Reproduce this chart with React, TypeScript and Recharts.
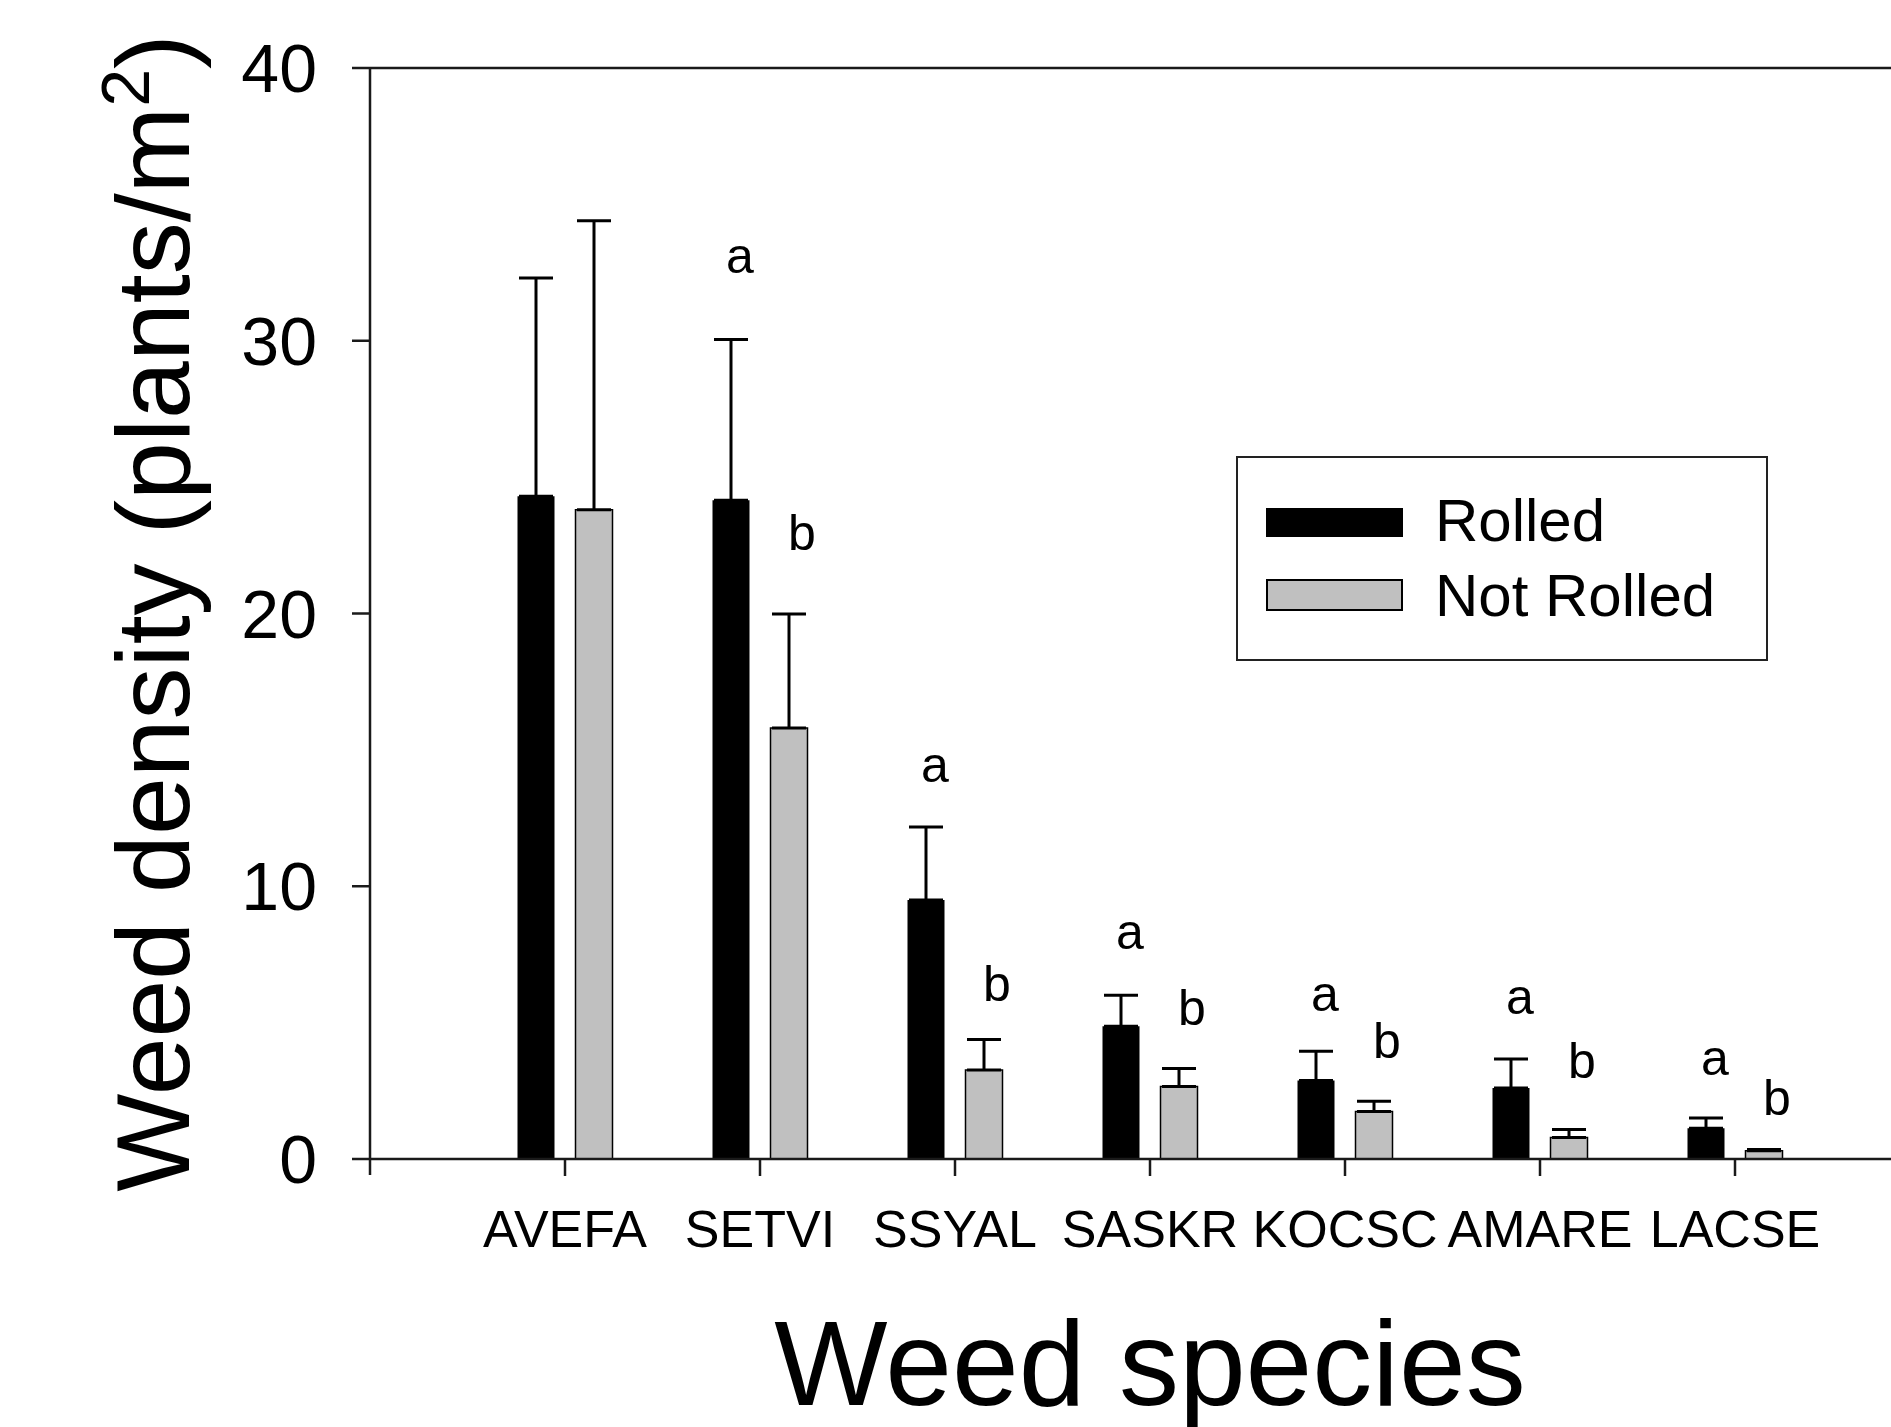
import React from "react";
import {
  ComposedChart,
  Bar,
  ErrorBar,
  XAxis,
  YAxis,
  Scatter,
  Legend,
  ReferenceLine,
} from "recharts";

const FONT = "'Liberation Sans', Arial, sans-serif";
const AXIS = "#1a1a1a";

// values (plants/m2)
const species = ["AVEFA", "SETVI", "SSYAL", "SASKR", "KOCSC", "AMARE", "LACSE"];
const rolled = [24.3, 24.15, 9.5, 4.87, 2.88, 2.6, 1.13];
const rolledErr = [8.0, 5.9, 2.67, 1.13, 1.07, 1.07, 0.37];
const notRolled = [23.8, 15.8, 3.26, 2.66, 1.74, 0.79, 0.3];
const notRolledErr = [10.6, 4.18, 1.12, 0.66, 0.38, 0.29, 0.05];

// significance letters and the height (data units) they sit at
const rolledLetters = ["", "a", "a", "a", "a", "a", "a"];
const notRolledLetters = ["", "b", "b", "b", "b", "b", "b"];
const rolledLetterY = [null, 32.97, 14.3, 8.18, 5.9, 5.79, 3.56];
const notRolledLetterY = [null, 22.99, 6.45, 5.57, 4.36, 3.63, 2.27];

const yTicks = [0, 10, 20, 30, 40];

const data = species.map((name, i) => ({
  name,
  rolled: rolled[i],
  rolledErr: [0, rolledErr[i]],
  notRolled: notRolled[i],
  notRolledErr: [0, notRolledErr[i]],
  aLetter: rolledLetters[i],
  aY: rolledLetterY[i],
  bLetter: notRolledLetters[i],
  bY: notRolledLetterY[i],
}));

const LegendBox = () => (
  <div
    style={{
      width: 532,
      height: 205,
      boxSizing: "border-box",
      border: "2px solid #222",
      position: "relative",
      fontFamily: FONT,
      background: "#fff",
      color: "#000",
    }}
  >
    <div style={{ position: "absolute", left: 28, top: 50, width: 137, height: 29, background: "#000" }} />
    <div
      style={{ position: "absolute", left: 197, top: 63, transform: "translateY(-50%)", fontSize: 60, lineHeight: 1 }}
    >
      Rolled
    </div>
    <div
      style={{
        position: "absolute",
        left: 28,
        top: 121,
        width: 137,
        height: 32,
        boxSizing: "border-box",
        background: "#c0c0c0",
        border: "2px solid #000",
      }}
    />
    <div
      style={{ position: "absolute", left: 197, top: 138, transform: "translateY(-50%)", fontSize: 60, lineHeight: 1 }}
    >
      Not Rolled
    </div>
  </div>
);

const letterShape = (field: string, dx: number, dyMap: Record<string, number>) => (props: any) => {
  const { cx, cy, payload } = props;
  const letter = payload && payload[field];
  if (!letter || cx == null || cy == null || isNaN(cy)) return <g />;
  return (
    <text x={cx + dx} y={cy + (dyMap[letter] || 0)} textAnchor="middle" fontSize={50} fontFamily={FONT} fill="#000">
      {letter}
    </text>
  );
};

const YTick = (props: any) => {
  const { x, y, payload } = props;
  return (
    <g>
      <text x={x} y={y} dy="0.355em" textAnchor="end" fontSize={68} fontFamily={FONT} fill="#000">
        {payload.value}
      </text>
      {payload.value === 0 && (
        <line x1={x + 53} y1={y} x2={x + 53} y2={y + 16} stroke={AXIS} strokeWidth={2.5} />
      )}
    </g>
  );
};

export default function App() {
  return (
    <div
      style={{
        position: "fixed",
        left: 0,
        top: 0,
        width: 1891,
        height: 1427,
        overflow: "hidden",
        background: "#fff",
      }}
    >
      <ComposedChart
        width={1960}
        height={1427}
        data={data}
        margin={{ top: 68, right: 30, bottom: 0, left: 0 }}
        barGap={21}
      >
        <XAxis
          dataKey="name"
          height={268}
          padding={{ left: 97.5, right: 97.5 }}
          interval={0}
          tickSize={17}
          tickMargin={34}
          tick={{ fontSize: 52, fill: "#000", fontFamily: FONT }}
          axisLine={{ stroke: AXIS, strokeWidth: 2.5 }}
          tickLine={{ stroke: AXIS, strokeWidth: 2.5 }}
          label={(p: any) => {
            const vb = p.viewBox || { x: 370, y: 1159, width: 1560 };
            return (
              <text
                x={vb.x + vb.width / 2}
                y={vb.y + 246}
                textAnchor="middle"
                fontSize={120}
                fontFamily={FONT}
                fill="#000"
              >
                Weed species
              </text>
            );
          }}
        />
        <YAxis
          width={370}
          domain={[0, 40]}
          ticks={yTicks}
          tickSize={18}
          tickMargin={35}
          tick={YTick}
          axisLine={{ stroke: AXIS, strokeWidth: 2.5 }}
          tickLine={{ stroke: AXIS, strokeWidth: 2.5 }}
          label={() => (
            <text
              x={189}
              y={613}
              transform="rotate(-90 189 613)"
              textAnchor="middle"
              fontSize={104}
              fontFamily={FONT}
              fill="#000"
            >
              Weed density (plants/m
              <tspan dy={-40} fontSize={68}>
                2
              </tspan>
              <tspan dy={40}>)</tspan>
            </text>
          )}
        />
        <ReferenceLine y={40} stroke={AXIS} strokeWidth={2.5} />
        <Legend
          layout="horizontal"
          verticalAlign="middle"
          align="center"
          content={() => <LegendBox />}
          wrapperStyle={{ position: "absolute", left: 1236, top: 456, width: 532, height: 205 }}
        />
        <Bar dataKey="rolled" name="Rolled" fill="#000" barSize={37} isAnimationActive={false}>
          <ErrorBar dataKey="rolledErr" width={17} stroke="#000" strokeWidth={3} direction="y" />
        </Bar>
        <Bar
          dataKey="notRolled"
          name="Not Rolled"
          fill="#c0c0c0"
          stroke="#000"
          strokeWidth={1.5}
          barSize={37}
          isAnimationActive={false}
        >
          <ErrorBar dataKey="notRolledErr" width={17} stroke="#000" strokeWidth={3} direction="y" />
        </Bar>
        <Scatter
          dataKey="aY"
          isAnimationActive={false}
          legendType="none"
          shape={letterShape("aLetter", -20, { a: 13, b: 18 })}
        />
        <Scatter
          dataKey="bY"
          isAnimationActive={false}
          legendType="none"
          shape={letterShape("bLetter", 42, { a: 13, b: 18 })}
        />
      </ComposedChart>
    </div>
  );
}
